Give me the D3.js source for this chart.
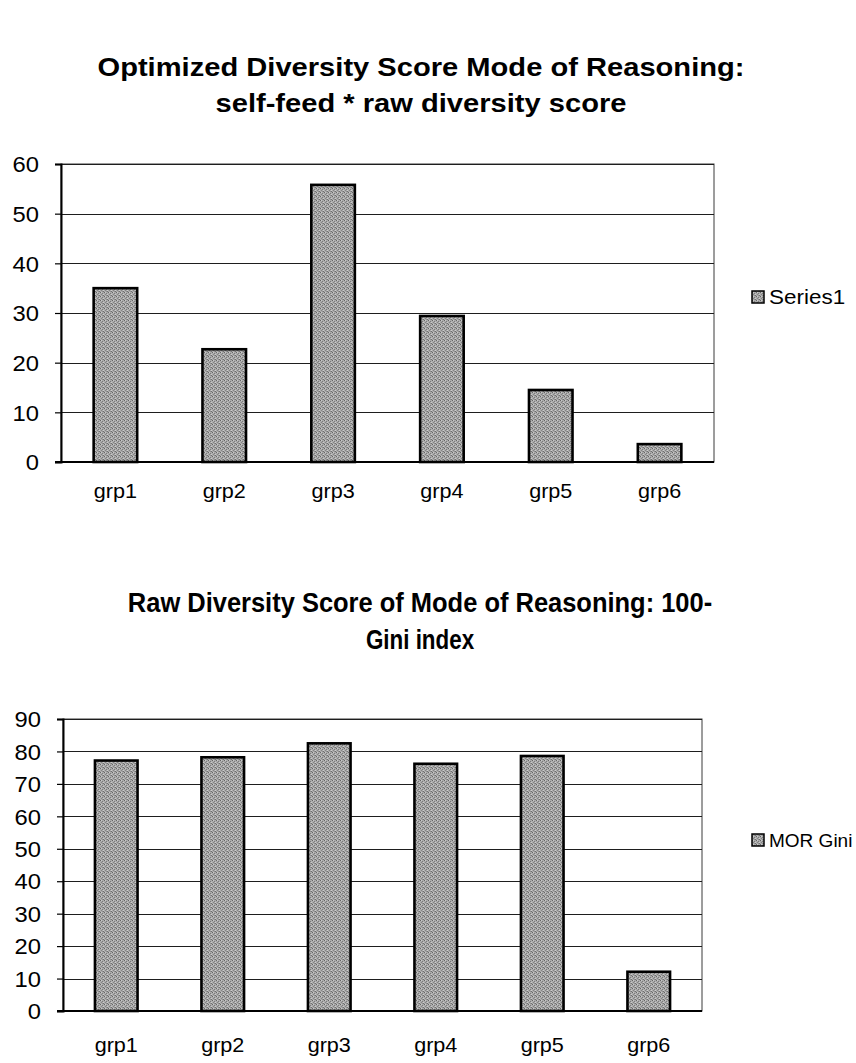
<!DOCTYPE html>
<html>
<head>
<meta charset="utf-8">
<script src="https://cdn.jsdelivr.net/npm/d3@7"></script>
<style>
  body { margin: 0; background: #fff; }
  svg { display: block; }
  text { font-family: "Liberation Sans", Arial, sans-serif; fill: #000; }
</style>
</head>
<body>
<script>
// Categories and values for both charts
const categories = ["grp1", "grp2", "grp3", "grp4", "grp5", "grp6"];
const series1Values = [35, 22.7, 55.8, 29.4, 14.5, 3.6];
const morGiniValues = [77.2, 78.2, 82.5, 76.2, 78.6, 12.1];
const series1Ticks = [0, 10, 20, 30, 40, 50, 60];
const morGiniTicks = [0, 10, 20, 30, 40, 50, 60, 70, 80, 90];
const series1Title = ["Optimized Diversity Score Mode of Reasoning:", "self-feed * raw diversity score"];
const morGiniTitle = ["Raw Diversity Score of Mode of Reasoning: 100-", "Gini index"];
const series1Name = "Series1";
const morGiniName = "MOR Gini";

const W = 856, H = 1063;
const svg = d3.select("body").append("svg").attr("width", W).attr("height", H);

// Dithered grey fill used for the bars and legend keys
const defs = svg.append("defs");
const pat = defs.append("pattern")
  .attr("id", "dither").attr("patternUnits", "userSpaceOnUse")
  .attr("width", 4).attr("height", 4);
pat.append("rect").attr("width", 4).attr("height", 4).attr("fill", "#ababab");
[[0,0,"#666"],[2,1,"#7a7a7a"],[1,2,"#838383"],[3,3,"#707070"],[1,0,"#c8c8c8"],[3,2,"#cbcbcb"],[2,3,"#909090"]]
  .forEach(([x, y, c]) => pat.append("rect").attr("x", x).attr("y", y).attr("width", 1).attr("height", 1).attr("fill", c));

function drawChart(cfg) {
  const g = svg.append("g");
  const { x0, x1, y0, y1 } = cfg.plot;

  const x = d3.scaleBand().domain(categories).range([x0, x1]).paddingInner(0.6).paddingOuter(0.3);
  const y = d3.scaleLinear().domain([0, d3.max(cfg.ticks)]).range([y1, y0]);

  // Title, one text per line
  cfg.title.forEach((line, i) => {
    g.append("text")
      .attr("transform", `translate(${cfg.titleX},${cfg.titleBaselines[i]}) scale(${cfg.titleScale[i]},1)`)
      .attr("text-anchor", "middle")
      .attr("font-weight", "bold")
      .attr("font-size", cfg.titleSize)
      .text(line);
  });

  // Plot frame
  g.append("rect").attr("x", x0).attr("y", y0).attr("width", x1 - x0).attr("height", y1 - y0)
    .attr("fill", "#fff").attr("stroke", "#3a3a3a").attr("stroke-width", 1);

  // Gridlines
  g.selectAll(".grid").data(cfg.ticks.filter(t => t > 0)).join("line")
    .attr("x1", x0).attr("x2", x1)
    .attr("y1", d => Math.round(y(d)) + 0.5).attr("y2", d => Math.round(y(d)) + 0.5)
    .attr("stroke", "#1e1e1e").attr("stroke-width", 1);

  // Value axis with outside ticks
  const yAxis = d3.axisLeft(y).tickValues(cfg.ticks).tickSize(6).tickPadding(13).tickFormat(d3.format("d"));
  const ya = g.append("g").attr("transform", `translate(${x0},0)`).call(yAxis);
  ya.select(".domain").attr("stroke", "#000").attr("stroke-width", 2);
  ya.selectAll(".tick line").attr("stroke", "#000").attr("stroke-width", 1.2);
  ya.selectAll(".tick text")
    .attr("font-size", 22).attr("font-family", "Liberation Sans, Arial, sans-serif")
    .attr("fill", "#000")
    .attr("x", null).attr("dy", null)
    .attr("dominant-baseline", "central")
    .attr("transform", `translate(-22,0) scale(1.08,1)`);

  // Bars
  g.selectAll(".bar").data(categories).join("rect")
    .attr("x", d => x(d))
    .attr("y", (d, i) => y(cfg.values[i]))
    .attr("width", x.bandwidth())
    .attr("height", (d, i) => y(0) - y(cfg.values[i]))
    .attr("fill", "url(#dither)")
    .attr("stroke", "#000").attr("stroke-width", 2.6);

  // Category axis line
  g.append("line").attr("x1", x0 - 6).attr("x2", x1).attr("y1", y1).attr("y2", y1)
    .attr("stroke", "#000").attr("stroke-width", 2);

  // Category labels
  g.selectAll(".cat").data(categories).join("text")
    .attr("transform", d => `translate(${x(d) + x.bandwidth() / 2},${y1 + cfg.labelOffset}) scale(1.08,1)`)
    .attr("text-anchor", "middle")
    .attr("font-size", 20)
    .text(d => d);

  // Legend
  const ly = cfg.legendY;
  g.append("rect").attr("x", cfg.legendX).attr("y", ly - 6).attr("width", 12).attr("height", 12)
    .attr("fill", "url(#dither)").attr("stroke", "#000").attr("stroke-width", 1.5);
  g.append("text")
    .attr("transform", `translate(${cfg.legendX + 17},${ly + 7}) scale(${cfg.legendScale},1)`)
    .attr("font-size", cfg.legendSize)
    .text(cfg.name);
}

drawChart({
  values: series1Values, ticks: series1Ticks, title: series1Title, name: series1Name,
  plot: { x0: 61, x1: 714, y0: 164, y1: 462 },
  titleX: 421, titleBaselines: [76, 112], titleSize: 26, titleScale: [1.12, 1.12],
  labelOffset: 36,
  legendX: 752, legendY: 297, legendSize: 21, legendScale: 1.07
});

drawChart({
  values: morGiniValues, ticks: morGiniTicks, title: morGiniTitle, name: morGiniName,
  plot: { x0: 63, x1: 702, y0: 719, y1: 1011 },
  titleX: 420, titleBaselines: [612, 649], titleSize: 28, titleScale: [0.91, 0.8],
  labelOffset: 41,
  legendX: 752, legendY: 840, legendSize: 19, legendScale: 1.0
});
</script>
</body>
</html>
